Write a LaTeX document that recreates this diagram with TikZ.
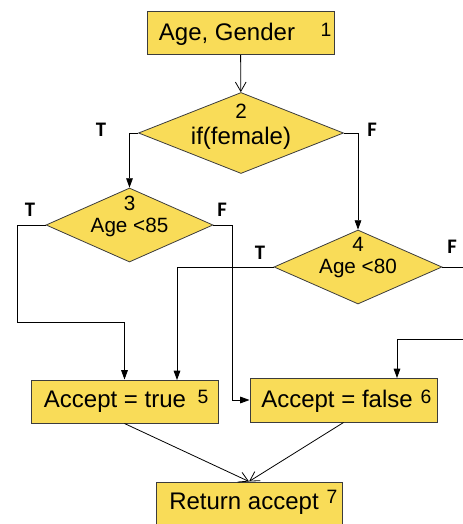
\documentclass[tikz,border=0pt]{standalone}
\usepackage{fontspec}
\setmainfont{Liberation Sans}
\newfontfamily\tffont{Carlito}
\usetikzlibrary{shapes.geometric,arrows.meta}
\definecolor{boxfill}{RGB}{249,220,88}
\definecolor{boxline}{RGB}{60,60,60}
\begin{document}
\begin{tikzpicture}[x=0.75pt,y=0.75pt,yscale=-1,
  box/.style={draw=boxline,fill=boxfill,line width=0.75pt,minimum width=140.25pt,minimum height=32.25pt,inner sep=0pt},
  decision/.style={diamond,draw=boxline,fill=boxfill,line width=0.6pt,inner sep=0pt},
  bigtxt/.style={font=\fontsize{18}{20}\selectfont,inner sep=0pt},
  midtxt/.style={font=\fontsize{15.5}{17}\selectfont,inner sep=0pt},
  numtxt/.style={font=\fontsize{14.5}{16}\selectfont,inner sep=0pt},
  tftxt/.style={font=\tffont\bfseries\fontsize{15.5}{17}\selectfont,inner sep=0pt},
  flow/.style={line width=0.6pt,-{Triangle[length=7pt,width=5pt]}},
  openflow/.style={line width=0.6pt,-{Straight Barb[length=7pt,width=8pt]}},
  plain/.style={line width=0.6pt}]
\useasboundingbox (0,0) rectangle (462,524);

%Shape: Rectangle [id:b1]
\node[box] (b1) at (240.5,33) {};
%Shape: Diamond [id:d2]
\node[decision,minimum width=153.75pt,minimum height=60.75pt] (d2) at (241,133) {};
%Shape: Diamond [id:d3]
\node[decision,minimum width=125.25pt,minimum height=55.5pt] (d3) at (129.5,225) {};
%Shape: Diamond [id:d4]
\node[decision,minimum width=126pt,minimum height=55.5pt] (d4) at (358,267) {};
%Shape: Rectangle [id:b5]
\node[box] (b5) at (124.5,401.5) {};
%Shape: Rectangle [id:b6]
\node[box,minimum height=33pt] (b6) at (343.5,400) {};
%Shape: Rectangle [id:b7]
\node[box,minimum width=139.5pt,minimum height=31.5pt] (b7) at (249,503) {};

%uncomment if require: the F branch of 4 leaves the diagram at the right
\coordinate (c3t) at (17,322);
\coordinate (b5in) at (177,380);
\coordinate (d4out) at (470,267);
\coordinate (d4back) at (470,339);
\coordinate (b6in) at (397,378);

%Straight Lines
\draw[openflow] (b1) -- (d2);
\draw[flow] (d2.west) -| (d3.north);
\draw[flow] (d2.east) -| (d4.north);
\draw[flow] (d3.west) -| (c3t) -| (b5.north);
\draw[flow] (d3.east) -- ++(19,0) |- (b6.west);
\draw[flow] (d4.west) -| (b5in);
\draw[plain] (d4.east) -- (d4out);
\draw[flow] (d4back) -| (b6in);
\draw[openflow] (b5.south) -- (b7.north);
\draw[openflow] (b6.south) -- (b7.north);

% Text Node
\node[bigtxt] (t1) at (227,34) {Age, Gender};
\node[numtxt] (n1) at (326,30) {1};
% Text Node
\node[midtxt] (n2) at (241,111) {2};
\node[bigtxt] (t2) at (241,138) {if(female)};
% Text Node
\node[midtxt] (n3) at (129.5,203) {3};
\node[midtxt] (t3) at (129.5,227) {Age <85};
% Text Node
\node[midtxt] (n4) at (358,244) {4};
\node[midtxt] (t4) at (358,268) {Age <80};
% Text Node
\node[bigtxt] (t5) at (115,402) {Accept = true};
\node[numtxt] (n5) at (203,397) {5};
% Text Node
\node[bigtxt] (t6) at (337,401) {Accept = false};
\node[numtxt] (n6) at (426,397) {6};
% Text Node
\node[bigtxt] (t7) at (244,504) {Return accept};
\node[numtxt] (n7) at (332,497) {7};
% Text Node
\node[tftxt] (t2T) at (101,130) {T};
\node[tftxt] (t2F) at (372,130) {F};
\node[tftxt] (t3T) at (30,210) {T};
\node[tftxt] (t3F) at (222,210) {F};
\node[tftxt] (t4T) at (260,253) {T};
\node[tftxt] (t4F) at (452,247) {F};

\end{tikzpicture}
\end{document}
